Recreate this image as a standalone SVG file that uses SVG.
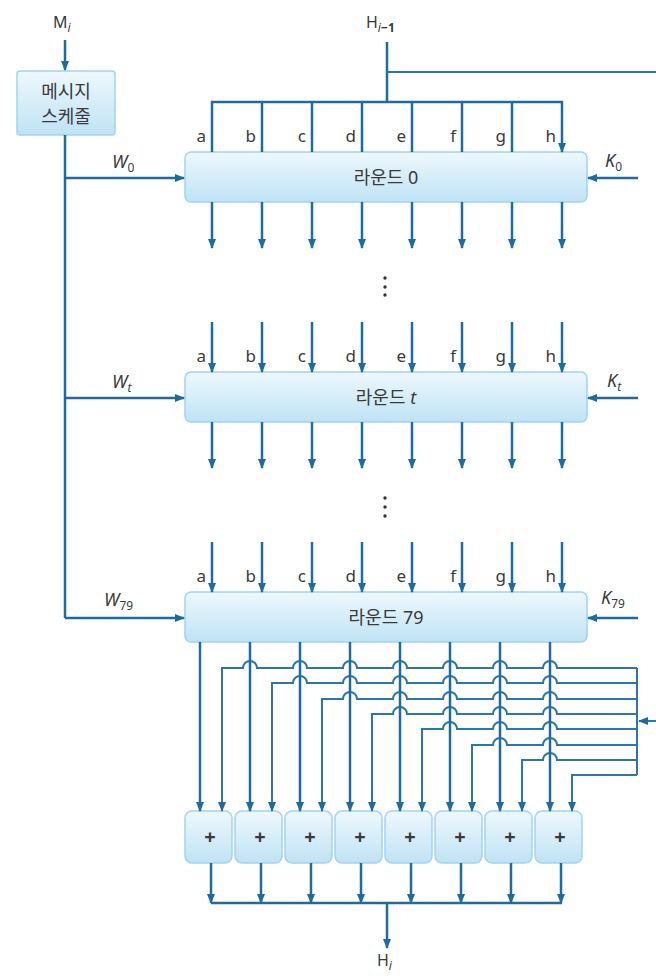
<svg xmlns="http://www.w3.org/2000/svg" width="656" height="979" viewBox="0 0 656 979">
<defs>
<linearGradient id="bg" x1="0" y1="0" x2="0" y2="1">
<stop offset="0" stop-color="#eef8fd"/>
<stop offset="1" stop-color="#bfe3f5"/>
</linearGradient>
<marker id="ah" markerUnits="userSpaceOnUse" markerWidth="10" markerHeight="8" refX="9" refY="4" orient="auto">
<path d="M0,0 L10,4 L0,8 Z" fill="#1f6c9c"/>
</marker>
</defs>
<style>
.box{fill:url(#bg);stroke:#a3d4ee;stroke-width:1.5}
.ln{fill:none;stroke:#1f6c9c;stroke-width:2.5}
.ar{fill:none;stroke:#1f6c9c;stroke-width:2.5;marker-end:url(#ah)}
.fb{fill:none;stroke:#2f76a2;stroke-width:2}
.fba{fill:none;stroke:#2f76a2;stroke-width:2;marker-end:url(#ah)}
text{font-family:"Noto Sans","Noto Sans CJK KR",sans-serif;fill:#3a3a3a}
.lt{font-size:17px;text-anchor:end}
.rl{font-size:18px;text-anchor:middle}
.it{font-style:italic}
.sub{font-size:12px}
</style>
<rect width="656" height="979" fill="#ffffff"/>

<g id="schedule">
<rect class="box" x="17" y="71" width="98" height="64" rx="3"/>
<text class="rl" x="66" y="98" font-size="16">메시지</text>
<text class="rl" x="66" y="123" font-size="16">스케줄</text>
</g>

<g id="round0">
<rect class="box" x="185" y="152" width="402" height="50" rx="6"/>
<text class="rl" x="386" y="184">라운드 0</text>
</g>
<g id="roundt">
<rect class="box" x="185" y="372" width="402" height="50" rx="6"/>
<text class="rl" x="386" y="404">라운드 <tspan class="it">t</tspan></text>
</g>
<g id="round79">
<rect class="box" x="185" y="592" width="402" height="50" rx="6"/>
<text class="rl" x="386" y="624">라운드 79</text>
</g>

<g id="adders">
<rect class="box" x="185" y="811" width="47" height="52" rx="7"/>
<rect class="box" x="235" y="811" width="47" height="52" rx="7"/>
<rect class="box" x="285" y="811" width="47" height="52" rx="7"/>
<rect class="box" x="335" y="811" width="47" height="52" rx="7"/>
<rect class="box" x="385" y="811" width="47" height="52" rx="7"/>
<rect class="box" x="435" y="811" width="47" height="52" rx="7"/>
<rect class="box" x="485" y="811" width="47" height="52" rx="7"/>
<rect class="box" x="535" y="811" width="47" height="52" rx="7"/>
<g font-size="20" font-weight="bold" text-anchor="middle">
<text x="210" y="844">+</text><text x="260" y="844">+</text><text x="310" y="844">+</text><text x="360" y="844">+</text>
<text x="410" y="844">+</text><text x="460" y="844">+</text><text x="510" y="844">+</text><text x="560" y="844">+</text>
</g>
</g>

<g id="labels">
<text x="53" y="28" font-size="16">M<tspan class="it sub" dy="4">i</tspan></text>
<text x="366" y="28" font-size="16">H<tspan class="it sub" dy="4">i</tspan><tspan class="sub" font-weight="bold">−1</tspan></text>
<text x="377" y="966" font-size="16">H<tspan class="it sub" dy="4">i</tspan></text>
<text x="112" y="168" font-size="18"><tspan class="it">W</tspan><tspan class="sub" dy="4">0</tspan></text>
<text x="112" y="388" font-size="18"><tspan class="it">W</tspan><tspan class="it sub" dy="4">t</tspan></text>
<text x="104" y="606" font-size="18"><tspan class="it">W</tspan><tspan class="sub" dy="4">79</tspan></text>
<text x="605" y="167" font-size="18"><tspan class="it">K</tspan><tspan class="sub" dy="4">0</tspan></text>
<text x="607" y="387" font-size="18"><tspan class="it">K</tspan><tspan class="it sub" dy="4">t</tspan></text>
<text x="601" y="604" font-size="18"><tspan class="it">K</tspan><tspan class="sub" dy="4">79</tspan></text>
<g class="lt">
<text x="206" y="142">a</text><text x="256" y="142">b</text><text x="306" y="142">c</text><text x="356" y="142">d</text><text x="406" y="142">e</text><text x="456" y="142">f</text><text x="506" y="142">g</text><text x="556" y="142">h</text>
<text x="206" y="362">a</text><text x="256" y="362">b</text><text x="306" y="362">c</text><text x="356" y="362">d</text><text x="406" y="362">e</text><text x="456" y="362">f</text><text x="506" y="362">g</text><text x="556" y="362">h</text>
<text x="206" y="582">a</text><text x="256" y="582">b</text><text x="306" y="582">c</text><text x="356" y="582">d</text><text x="406" y="582">e</text><text x="456" y="582">f</text><text x="506" y="582">g</text><text x="556" y="582">h</text>
</g>
<g fill="#333">
<circle cx="385" cy="278" r="1.7"/><circle cx="385" cy="287" r="1.7"/><circle cx="385" cy="295" r="1.7"/>
<circle cx="385" cy="498" r="1.7"/><circle cx="385" cy="507" r="1.7"/><circle cx="385" cy="516" r="1.7"/>
</g>
</g>

<g id="connectors">
<path class="ar" d="M65 40 V70"/>
<path class="ln" d="M65 135 V618"/>
<path class="ar" d="M65 178 H184"/>
<path class="ar" d="M65 398 H184"/>
<path class="ar" d="M65 618 H184"/>
<path class="ar" d="M638 178 H588"/>
<path class="ar" d="M638 398 H588"/>
<path class="ar" d="M638 618 H588"/>
<path class="ln" d="M387 42 V102"/>
<path class="fb" d="M387 72 H656"/>
<path class="ln" d="M211 102 H563"/>
<path class="ar" d="M212 101 V152 M262 101 V152 M312 101 V152 M362 101 V152 M412 101 V152 M462 101 V152 M512 101 V152 M562 101 V152"/>
<path class="ar" d="M212 202 V248"/><path class="ar" d="M262 202 V248"/><path class="ar" d="M312 202 V248"/><path class="ar" d="M362 202 V248"/><path class="ar" d="M412 202 V248"/><path class="ar" d="M462 202 V248"/><path class="ar" d="M512 202 V248"/><path class="ar" d="M562 202 V248"/>
<path class="ar" d="M212 322 V372"/><path class="ar" d="M262 322 V372"/><path class="ar" d="M312 322 V372"/><path class="ar" d="M362 322 V372"/><path class="ar" d="M412 322 V372"/><path class="ar" d="M462 322 V372"/><path class="ar" d="M512 322 V372"/><path class="ar" d="M562 322 V372"/>
<path class="ar" d="M212 422 V468"/><path class="ar" d="M262 422 V468"/><path class="ar" d="M312 422 V468"/><path class="ar" d="M362 422 V468"/><path class="ar" d="M412 422 V468"/><path class="ar" d="M462 422 V468"/><path class="ar" d="M512 422 V468"/><path class="ar" d="M562 422 V468"/>
<path class="ar" d="M212 542 V592"/><path class="ar" d="M262 542 V592"/><path class="ar" d="M312 542 V592"/><path class="ar" d="M362 542 V592"/><path class="ar" d="M412 542 V592"/><path class="ar" d="M462 542 V592"/><path class="ar" d="M512 542 V592"/><path class="ar" d="M562 542 V592"/>

<path class="fb" d="M637 668 V775"/>
<path class="fba" d="M656 721 H639"/>
<path class="fba" d="M637 668 H557 A7 7 0 0 0 543 668 H507 A7 7 0 0 0 493 668 H457 A7 7 0 0 0 443 668 H407 A7 7 0 0 0 393 668 H357 A7 7 0 0 0 343 668 H307 A7 7 0 0 0 293 668 H257 A7 7 0 0 0 243 668 H222 V811"/>
<path class="fba" d="M637 683 H557 A7 7 0 0 0 543 683 H507 A7 7 0 0 0 493 683 H457 A7 7 0 0 0 443 683 H407 A7 7 0 0 0 393 683 H357 A7 7 0 0 0 343 683 H307 A7 7 0 0 0 293 683 H272 V811"/>
<path class="fba" d="M637 699 H557 A7 7 0 0 0 543 699 H507 A7 7 0 0 0 493 699 H457 A7 7 0 0 0 443 699 H407 A7 7 0 0 0 393 699 H357 A7 7 0 0 0 343 699 H322 V811"/>
<path class="fba" d="M637 714 H557 A7 7 0 0 0 543 714 H507 A7 7 0 0 0 493 714 H457 A7 7 0 0 0 443 714 H407 A7 7 0 0 0 393 714 H372 V811"/>
<path class="fba" d="M637 729 H557 A7 7 0 0 0 543 729 H507 A7 7 0 0 0 493 729 H457 A7 7 0 0 0 443 729 H422 V811"/>
<path class="fba" d="M637 745 H557 A7 7 0 0 0 543 745 H507 A7 7 0 0 0 493 745 H472 V811"/>
<path class="fba" d="M637 760 H557 A7 7 0 0 0 543 760 H522 V811"/>
<path class="fba" d="M637 775 H572 V811"/>

<path class="ar" d="M200 642 V811"/><path class="ar" d="M250 642 V811"/><path class="ar" d="M300 642 V811"/><path class="ar" d="M350 642 V811"/><path class="ar" d="M400 642 V811"/><path class="ar" d="M450 642 V811"/><path class="ar" d="M500 642 V811"/><path class="ar" d="M550 642 V811"/>

<path class="ar" d="M211 863 V903"/><path class="ar" d="M261 863 V903"/><path class="ar" d="M311 863 V903"/><path class="ar" d="M361 863 V903"/><path class="ar" d="M411 863 V903"/><path class="ar" d="M461 863 V903"/><path class="ar" d="M511 863 V903"/><path class="ar" d="M561 863 V903"/>
<path class="ln" d="M211 903 H562"/>
<path class="ar" d="M387 903 V948"/>
</g>
</svg>
